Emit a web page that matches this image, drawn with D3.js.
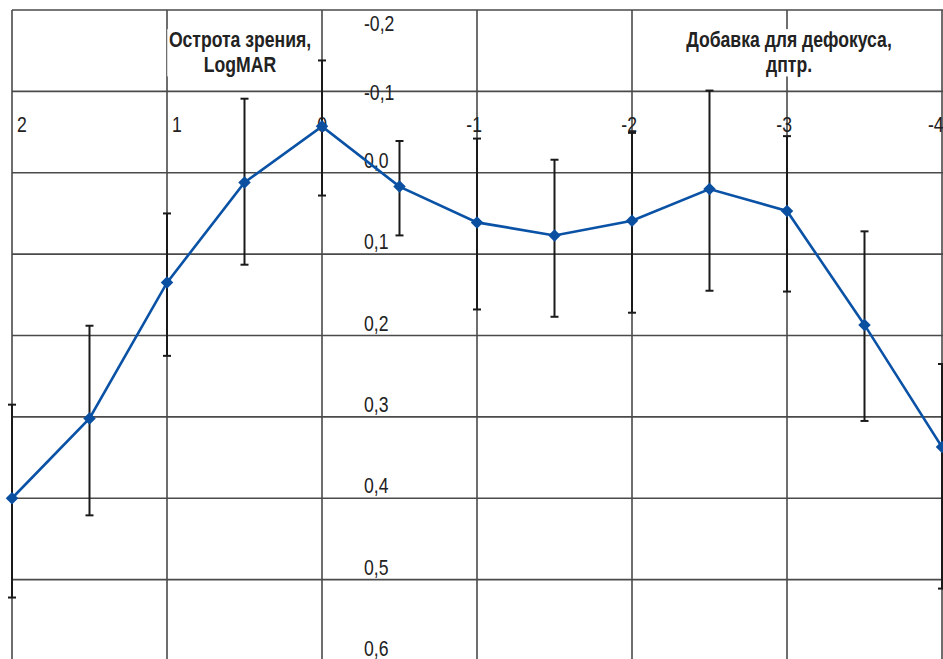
<!DOCTYPE html>
<html>
<head>
<meta charset="utf-8">
<script src="https://cdn.jsdelivr.net/npm/d3@7"></script>
<style>
  body { margin: 0; background: #fff; }
  text { font-family: "Liberation Sans", Arial, sans-serif; }
</style>
</head>
<body>
<div id="chart"></div>
<script>
// defocus, dioptres (x) and visual acuity, LogMAR (y)
const defocus = [2, 1.5, 1, 0.5, 0, -0.5, -1, -1.5, -2, -2.5, -3, -3.5, -4];
const acuity  = [0.40, 0.302, 0.135, 0.012, -0.057, 0.017, 0.061, 0.077, 0.059, 0.020, 0.047, 0.187, 0.337];
const errLow  = [0.285, 0.188, 0.050, -0.091, -0.138, -0.039, -0.042, -0.016, -0.049, -0.101, -0.045, 0.072, 0.235];
const errHigh = [0.522, 0.421, 0.225, 0.113, 0.028, 0.077, 0.168, 0.177, 0.172, 0.145, 0.146, 0.305, 0.511];

const xTicks = [2, 1, 0, -1, -2, -3, -4];
const yTicks = [-0.2, -0.1, 0, 0.1, 0.2, 0.3, 0.4, 0.5, 0.6];
const yTitle = ["Острота зрения,", "LogMAR"];
const xTitle = ["Добавка для дефокуса,", "дптр."];

const width = 943, height = 659;
const narrow = 0.8; // condensed look

const svg = d3.select("#chart").append("svg")
    .attr("width", width)
    .attr("height", height);

const x = d3.scaleLinear().domain([2, -4]).range([12, 942]);
const y = d3.scaleLinear().domain([-0.2, 0.6]).range([10, 661]);

const data = defocus.map((d, i) => ({x: d, y: acuity[i], lo: errLow[i], hi: errHigh[i]}));

// grid
const grid = svg.append("g").attr("stroke", "#4a4a4a").attr("stroke-width", 1.6);
grid.selectAll(".hgrid").data(yTicks).enter().append("line")
    .attr("x1", x(2)).attr("x2", width)
    .attr("y1", d => y(d)).attr("y2", d => y(d));
grid.selectAll(".vgrid").data(xTicks).enter().append("line")
    .attr("x1", d => x(d)).attr("x2", d => x(d))
    .attr("y1", y(-0.2)).attr("y2", height);

// titles with white backing
function title(lines, cx) {
    const g = svg.append("g");
    const t = g.append("text")
        .attr("transform", "translate(" + cx + ",0) scale(" + narrow + ",1)")
        .attr("text-anchor", "middle")
        .attr("font-weight", "bold")
        .attr("font-size", 22)
        .attr("fill", "#222");
    lines.forEach((l, i) => {
        t.append("tspan").attr("x", 0).attr("y", 47 + i * 25).text(l);
    });
    const bb = t.node().getBBox();
    g.insert("rect", "text")
        .attr("x", cx + (bb.x - 2) * narrow).attr("y", bb.y + 2)
        .attr("width", (bb.width + 4) * narrow).attr("height", bb.height - 2)
        .attr("fill", "#fff");
}
title(yTitle, 240);
title(xTitle, 789);

const fmtY = d => d3.format(".1f")(d).replace(".", ",").replace("−", "-");

// y tick labels alongside the 0 dioptre line
svg.append("g").selectAll("text").data(yTicks).enter().append("text")
    .attr("transform", d => "translate(" + (x(0) + 42) + "," +
        (d < 0 ? y(d) + (d < -0.15 ? 21 : 9) : y(d) - 5) + ") scale(" + narrow + ",1)")
    .attr("font-size", 22)
    .attr("fill", "#222")
    .text(fmtY);

// x tick labels under the -0.1 line; the last one sits at the right edge
svg.append("g").selectAll("text").data(xTicks).enter().append("text")
    .attr("transform", d => "translate(" + (d < -3.5 ? x(d) - 14 : x(d) + 5) + ",132) scale(" + narrow + ",1)")
    .attr("text-anchor", d => d > 0 || d < -3.5 ? "start" : "end")
    .attr("font-size", 22)
    .attr("fill", "#222")
    .text(d => d3.format("d")(d).replace("−", "-"));

// error bars
const eb = svg.append("g").attr("stroke", "#1a1a1a").attr("stroke-width", 2);
eb.selectAll(".stem").data(data).enter().append("line")
    .attr("x1", d => x(d.x)).attr("x2", d => x(d.x))
    .attr("y1", d => y(d.lo)).attr("y2", d => y(d.hi));
eb.selectAll(".capLo").data(data).enter().append("line")
    .attr("x1", d => x(d.x) - 4).attr("x2", d => x(d.x) + 4)
    .attr("y1", d => y(d.lo)).attr("y2", d => y(d.lo));
eb.selectAll(".capHi").data(data).enter().append("line")
    .attr("x1", d => x(d.x) - 4).attr("x2", d => x(d.x) + 4)
    .attr("y1", d => y(d.hi)).attr("y2", d => y(d.hi));

// series line
const line = d3.line().x(d => x(d.x)).y(d => y(d.y));
svg.append("path")
    .datum(data)
    .attr("d", line)
    .attr("fill", "none")
    .attr("stroke", "#0a52a5")
    .attr("stroke-width", 2.6);

// diamond markers (rotated squares)
svg.append("g").selectAll("path").data(data).enter().append("path")
    .attr("d", d3.symbol(d3.symbolSquare, 78))
    .attr("transform", d => "translate(" + x(d.x) + "," + y(d.y) + ") rotate(45)")
    .attr("fill", "#0a4fa0");
</script>
</body>
</html>
